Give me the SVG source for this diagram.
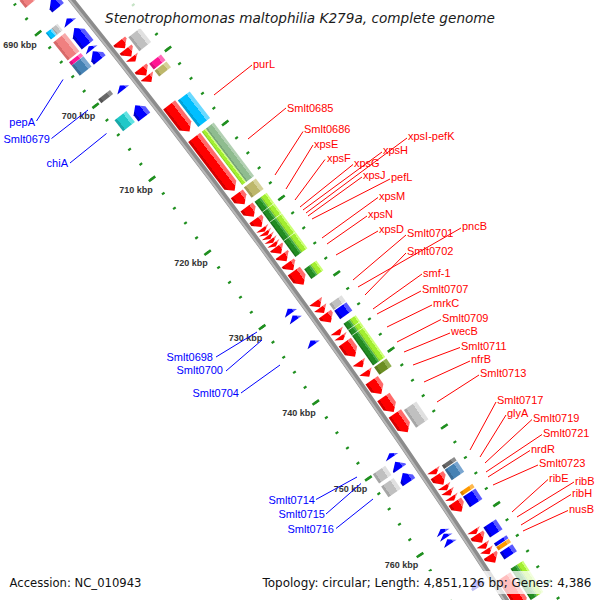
<svg xmlns="http://www.w3.org/2000/svg" xmlns:xlink="http://www.w3.org/1999/xlink" width="600" height="600" viewBox="0 0 600 600">
<defs>
<style>
.R{fill:url(#gR)}.B{fill:url(#gB)}.Gy{fill:url(#gGy)}.Dg{fill:url(#gDg)}.Sa{fill:url(#gSa)}.Mg{fill:url(#gMg)}.St{fill:url(#gSt)}.Cy{fill:url(#gCy)}.Tq{fill:url(#gTq)}.Tn{fill:url(#gTn)}.Sg{fill:url(#gSg)}.Li{fill:url(#gLi)}.Fg{fill:url(#gFg)}.Ol{fill:url(#gOl)}.Or{fill:url(#gOr)}
.dv{stroke:#fff;stroke-width:0.8;stroke-opacity:0.8}
.lr{font-family:"Liberation Sans",Arial,sans-serif;font-size:11px;fill:#ff0000}
.lb{font-family:"Liberation Sans",Arial,sans-serif;font-size:11px;fill:#0000ff;text-anchor:end}
.tk{font-family:"Liberation Sans",Arial,sans-serif;font-size:9px;font-weight:bold;fill:#333;text-anchor:middle}
.cr line{stroke:#ff0000;stroke-width:1}
.cb line{stroke:#0000ff;stroke-width:1}
.tick{fill:none;stroke:#1f8f1f}
.lg{font-family:"DejaVu Sans",sans-serif;font-size:12px;fill:#111}
.box{fill:#fff;fill-opacity:0.75}
</style>
<linearGradient id="gR" x1="0" y1="0" x2="0" y2="1"><stop offset="0" stop-color="#ff6a6a"/><stop offset=".28" stop-color="#ff6a6a"/><stop offset=".28" stop-color="#f00"/><stop offset=".82" stop-color="#f00"/><stop offset=".82" stop-color="#d40000"/><stop offset="1" stop-color="#d40000"/></linearGradient>
<linearGradient id="gB" x1="0" y1="0" x2="0" y2="1"><stop offset="0" stop-color="#5a5aff"/><stop offset=".28" stop-color="#5a5aff"/><stop offset=".28" stop-color="#00f"/><stop offset=".82" stop-color="#00f"/><stop offset=".82" stop-color="#0000c8"/><stop offset="1" stop-color="#0000c8"/></linearGradient>
<linearGradient id="gGy" x1="0" y1="0" x2="0" y2="1"><stop offset="0" stop-color="#e0e0e0"/><stop offset=".28" stop-color="#e0e0e0"/><stop offset=".28" stop-color="#c0c0c0"/><stop offset=".82" stop-color="#c0c0c0"/><stop offset=".82" stop-color="#a6a6a6"/><stop offset="1" stop-color="#a6a6a6"/></linearGradient>
<linearGradient id="gDg" x1="0" y1="0" x2="0" y2="1"><stop offset="0" stop-color="#8c8c8c"/><stop offset=".28" stop-color="#8c8c8c"/><stop offset=".28" stop-color="#686868"/><stop offset=".82" stop-color="#686868"/><stop offset=".82" stop-color="#555"/><stop offset="1" stop-color="#555"/></linearGradient>
<linearGradient id="gSa" x1="0" y1="0" x2="0" y2="1"><stop offset="0" stop-color="#f7aaaa"/><stop offset=".28" stop-color="#f7aaaa"/><stop offset=".28" stop-color="#f08080"/><stop offset=".82" stop-color="#f08080"/><stop offset=".82" stop-color="#d86a6a"/><stop offset="1" stop-color="#d86a6a"/></linearGradient>
<linearGradient id="gMg" x1="0" y1="0" x2="0" y2="1"><stop offset="0" stop-color="#ff6ab8"/><stop offset=".28" stop-color="#ff6ab8"/><stop offset=".28" stop-color="#ff1493"/><stop offset=".82" stop-color="#ff1493"/><stop offset=".82" stop-color="#d8107c"/><stop offset="1" stop-color="#d8107c"/></linearGradient>
<linearGradient id="gSt" x1="0" y1="0" x2="0" y2="1"><stop offset="0" stop-color="#7aa6d0"/><stop offset=".28" stop-color="#7aa6d0"/><stop offset=".28" stop-color="#4682b4"/><stop offset=".82" stop-color="#4682b4"/><stop offset=".82" stop-color="#3a6d98"/><stop offset="1" stop-color="#3a6d98"/></linearGradient>
<linearGradient id="gCy" x1="0" y1="0" x2="0" y2="1"><stop offset="0" stop-color="#6ad9ff"/><stop offset=".28" stop-color="#6ad9ff"/><stop offset=".28" stop-color="#00bfff"/><stop offset=".82" stop-color="#00bfff"/><stop offset=".82" stop-color="#00a2d8"/><stop offset="1" stop-color="#00a2d8"/></linearGradient>
<linearGradient id="gTq" x1="0" y1="0" x2="0" y2="1"><stop offset="0" stop-color="#62e2e2"/><stop offset=".28" stop-color="#62e2e2"/><stop offset=".28" stop-color="#1fc8c8"/><stop offset=".82" stop-color="#1fc8c8"/><stop offset=".82" stop-color="#18a8a8"/><stop offset="1" stop-color="#18a8a8"/></linearGradient>
<linearGradient id="gTn" x1="0" y1="0" x2="0" y2="1"><stop offset="0" stop-color="#d6d29a"/><stop offset=".28" stop-color="#d6d29a"/><stop offset=".28" stop-color="#bdb76b"/><stop offset=".82" stop-color="#bdb76b"/><stop offset=".82" stop-color="#a39d58"/><stop offset="1" stop-color="#a39d58"/></linearGradient>
<linearGradient id="gSg" x1="0" y1="0" x2="0" y2="1"><stop offset="0" stop-color="#b2d0b2"/><stop offset=".28" stop-color="#b2d0b2"/><stop offset=".28" stop-color="#8fbc8f"/><stop offset=".82" stop-color="#8fbc8f"/><stop offset=".82" stop-color="#7aa67a"/><stop offset="1" stop-color="#7aa67a"/></linearGradient>
<linearGradient id="gLi" x1="0" y1="0" x2="0" y2="1"><stop offset="0" stop-color="#ccff77"/><stop offset=".28" stop-color="#ccff77"/><stop offset=".28" stop-color="#a2ee30"/><stop offset=".82" stop-color="#a2ee30"/><stop offset=".82" stop-color="#8cd428"/><stop offset="1" stop-color="#8cd428"/></linearGradient>
<linearGradient id="gFg" x1="0" y1="0" x2="0" y2="1"><stop offset="0" stop-color="#44aa44"/><stop offset=".28" stop-color="#44aa44"/><stop offset=".28" stop-color="#228b22"/><stop offset=".82" stop-color="#228b22"/><stop offset=".82" stop-color="#1a721a"/><stop offset="1" stop-color="#1a721a"/></linearGradient>
<linearGradient id="gOl" x1="0" y1="0" x2="0" y2="1"><stop offset="0" stop-color="#90b050"/><stop offset=".28" stop-color="#90b050"/><stop offset=".28" stop-color="#6b8e23"/><stop offset=".82" stop-color="#6b8e23"/><stop offset=".82" stop-color="#5a7a1c"/><stop offset="1" stop-color="#5a7a1c"/></linearGradient>
<linearGradient id="gOr" x1="0" y1="0" x2="0" y2="1"><stop offset="0" stop-color="#ffb84d"/><stop offset=".28" stop-color="#ffb84d"/><stop offset=".28" stop-color="#ff9900"/><stop offset=".82" stop-color="#ff9900"/><stop offset=".82" stop-color="#dd8000"/><stop offset="1" stop-color="#dd8000"/></linearGradient>
<path id="tin" d="M5501.8,-4541.38 A7134,7134 0 0 1 6022.55,-3823.99"/>
<path id="tout" d="M5572.75,-4599.95 A7226,7226 0 0 1 6100.22,-3873.3"/>
</defs>
<rect width="600" height="600" fill="#fff"/>
<g id="map" transform="translate(-5522 4503)">
<g id="ticks">
<use xlink:href="#tin" class="tick" stroke-width="3.2" stroke-dasharray="2.2 16.2799" stroke-dashoffset="1.1"/>
<use xlink:href="#tin" class="tick" stroke-width="8" stroke-dasharray="2.6 89.7995" stroke-dashoffset="1.3"/>
<use xlink:href="#tout" class="tick" stroke-width="3.2" stroke-dasharray="2.2 16.5182" stroke-dashoffset="1.1"/>
<use xlink:href="#tout" class="tick" stroke-width="8" stroke-dasharray="2.6 90.991" stroke-dashoffset="1.3"/>
</g>
<g id="backbone">
<path d="M5561.65,-4542.55 A7181,7181 0 0 1 6042.2,-3880.54" fill="none" stroke="#8c8c8c" stroke-width="6"/>
<path d="M5560.49,-4541.6 A7179.5,7179.5 0 0 1 6040.94,-3879.73" fill="none" stroke="#b8b8b8" stroke-width="2"/>
</g>
<g id="features">
<g id="r1" transform="rotate(51.10073)"><polygon class="B" points="5.58,-7173 1.42,-7173 -5.58,-7165.5 1.42,-7158 5.58,-7158"/></g>
<g id="r2" transform="rotate(51.27883)"><polygon class="B" points="2.79,-7173 -2.79,-7165.5 2.79,-7158"/></g>
<g id="r3" transform="rotate(51.43838)"><polygon class="B" points="10.7,-7173 -3.7,-7173 -10.7,-7165.5 -3.7,-7158 10.7,-7158"/></g>
<g id="r4" transform="rotate(51.55712)"><polygon class="B" points="2.33,-7173 -2.33,-7165.5 2.33,-7158"/></g>
<g id="pepA" transform="rotate(51.63504)"><polygon class="B" points="5.58,-7173 1.42,-7173 -5.58,-7165.5 1.42,-7158 5.58,-7158"/></g>
<g id="Smlt0679" transform="rotate(51.96156)"><polygon class="B" points="2.79,-7173 -2.79,-7165.5 2.79,-7158"/></g>
<g id="chiA" transform="rotate(52.19903)"><polygon class="B" points="7.44,-7173 -0.44,-7173 -7.44,-7165.5 -0.44,-7158 7.44,-7158"/></g>
<g id="Smlt0698" transform="rotate(54.19527)"><polygon class="B" points="2.79,-7173 -2.79,-7165.5 2.79,-7158"/></g>
<g id="Smlt0700" transform="rotate(54.26206)"><polygon class="B" points="2.79,-7173 -2.79,-7165.5 2.79,-7158"/></g>
<g id="Smlt0704" transform="rotate(54.50695)"><polygon class="B" points="2.79,-7173 -2.79,-7165.5 2.79,-7158"/></g>
<g id="Smlt0714" transform="rotate(55.60525)"><polygon class="B" points="2.33,-7173 -2.33,-7165.5 2.33,-7158"/></g>
<g id="Smlt0715" transform="rotate(55.70173)"><polygon class="B" points="4.19,-7173 2.81,-7173 -4.19,-7165.5 2.81,-7158 4.19,-7158"/></g>
<g id="Smlt0716" transform="rotate(55.82046)"><polygon class="B" points="5.58,-7173 1.42,-7173 -5.58,-7165.5 1.42,-7158 5.58,-7158"/></g>
<g id="r14" transform="rotate(56.33622)"><polygon class="B" points="2.33,-7173 -2.33,-7165.5 2.33,-7158"/></g>
<g id="r15" transform="rotate(56.38074)"><polygon class="B" points="2.33,-7173 -2.33,-7165.5 2.33,-7158"/></g>
<g id="r16" transform="rotate(56.4364)"><polygon class="B" points="2.79,-7173 -2.79,-7165.5 2.79,-7158"/></g>
<g id="r17" transform="rotate(56.83713)"><polygon class="B" points="4.65,-7173 2.35,-7173 -4.65,-7165.5 2.35,-7158 4.65,-7158"/></g>

<g id="c1" transform="rotate(50.94489)"><rect class="Sa" x="-4.65" y="-7155" width="9.3" height="15"/></g>
<g id="c2" transform="rotate(51.27512)"><rect class="Gy" x="-4.19" y="-7155" width="8.37" height="7.5"/><rect class="Cy" x="-4.19" y="-7147.5" width="8.37" height="7.5"/></g>
<g id="c3" transform="rotate(51.43096)"><rect class="Sa" x="-11.63" y="-7155" width="23.25" height="15"/></g>
<g id="c4" transform="rotate(51.55712)"><rect class="Mg" x="-2" y="-7155" width="4" height="15"/></g>
<g id="c5" transform="rotate(51.62762)"><rect class="St" x="-6.51" y="-7155" width="13.02" height="15"/></g>
<g id="c6" transform="rotate(51.9393)"><rect class="Dg" x="-2.5" y="-7155" width="5" height="15"/></g>
<g id="c7" transform="rotate(52.1879)"><rect class="Tq" x="-6.98" y="-7155" width="13.95" height="15"/></g>
<g id="c8" transform="rotate(55.6943)"><rect class="Gy" x="-5.58" y="-7155" width="11.16" height="15"/></g>
<g id="c9" transform="rotate(55.82046)"><rect class="Gy" x="-6.51" y="-7155" width="13.02" height="15"/></g>

<g id="f1" transform="rotate(51.69441)"><polygon class="R" points="-4.65,-7200 -2.35,-7200 4.65,-7192.5 -2.35,-7185 -4.65,-7185"/></g>
<g id="f2" transform="rotate(51.77604)"><polygon class="R" points="-4.65,-7200 -2.35,-7200 4.65,-7192.5 -2.35,-7185 -4.65,-7185"/></g>
<g id="f3" transform="rotate(51.84283)"><polygon class="R" points="-2.79,-7200 2.79,-7192.5 -2.79,-7185"/></g>
<g id="f4" transform="rotate(51.96898)"><polygon class="R" points="-4.65,-7200 -2.35,-7200 4.65,-7192.5 -2.35,-7185 -4.65,-7185"/></g>
<g id="f5" transform="rotate(52.04319)"><polygon class="R" points="-3.72,-7200 -3.28,-7200 3.72,-7192.5 -3.28,-7185 -3.72,-7185"/></g>
<g id="purL" transform="rotate(52.4365)"><polygon class="R" points="-16.74,-7200 9.74,-7200 16.74,-7192.5 9.74,-7185 -16.74,-7185"/></g>
<g id="Smlt0685" transform="rotate(52.8966)"><polygon class="R" points="-33.48,-7200 26.48,-7200 33.48,-7192.5 26.48,-7185 -33.48,-7185"/></g>
<g id="Smlt0686" transform="rotate(53.24539)"><polygon class="R" points="-6.51,-7200 -0.49,-7200 6.51,-7192.5 -0.49,-7185 -6.51,-7185"/></g>
<g id="xpsE" transform="rotate(53.37154)"><polygon class="R" points="-6.05,-7200 -0.95,-7200 6.05,-7192.5 -0.95,-7185 -6.05,-7185"/></g>
<g id="xpsF" transform="rotate(53.48286)"><polygon class="R" points="-5.12,-7200 -1.88,-7200 5.12,-7192.5 -1.88,-7185 -5.12,-7185"/></g>
<g id="xpsG" transform="rotate(53.5515)"><polygon class="R" points="-2.09,-7200 2.09,-7192.5 -2.09,-7185"/></g>
<g id="xpsH" transform="rotate(53.58861)"><polygon class="R" points="-2.09,-7200 2.09,-7192.5 -2.09,-7185"/></g>
<g id="xpsI-pefK" transform="rotate(53.62571)"><polygon class="R" points="-2.09,-7200 2.09,-7192.5 -2.09,-7185"/></g>
<g id="xpsJ" transform="rotate(53.66282)"><polygon class="R" points="-2.09,-7200 2.09,-7192.5 -2.09,-7185"/></g>
<g id="pefL" transform="rotate(53.69992)"><polygon class="R" points="-2.09,-7200 2.09,-7192.5 -2.09,-7185"/></g>
<g id="f16" transform="rotate(53.75372)"><polygon class="R" points="-4.19,-7200 -2.81,-7200 4.19,-7192.5 -2.81,-7185 -4.19,-7185"/></g>
<g id="xpsM" transform="rotate(53.82793)"><polygon class="R" points="-4.19,-7200 -2.81,-7200 4.19,-7192.5 -2.81,-7185 -4.19,-7185"/></g>
<g id="xpsN" transform="rotate(53.91327)"><polygon class="R" points="-4.65,-7200 -2.35,-7200 4.65,-7192.5 -2.35,-7185 -4.65,-7185"/></g>
<g id="xpsD" transform="rotate(54.02459)"><polygon class="R" points="-8.37,-7200 1.37,-7200 8.37,-7192.5 1.37,-7185 -8.37,-7185"/></g>
<g id="Smlt0701" transform="rotate(54.28432)"><polygon class="R" points="-3.72,-7200 -3.28,-7200 3.72,-7192.5 -3.28,-7185 -3.72,-7185"/></g>
<g id="pncB" transform="rotate(54.34369)"><polygon class="R" points="-3.26,-7200 3.26,-7192.5 -3.26,-7185"/></g>
<g id="Smlt0702" transform="rotate(54.42161)"><polygon class="R" points="-5.12,-7200 -1.88,-7200 5.12,-7192.5 -1.88,-7185 -5.12,-7185"/></g>
<g id="smf-1" transform="rotate(54.56632)"><polygon class="R" points="-2.79,-7200 2.79,-7192.5 -2.79,-7185"/></g>
<g id="Smlt0707" transform="rotate(54.61456)"><polygon class="R" points="-2.33,-7200 2.33,-7192.5 -2.33,-7185"/></g>
<g id="mrkC" transform="rotate(54.72587)"><polygon class="R" points="-8.84,-7200 1.84,-7200 8.84,-7192.5 1.84,-7185 -8.84,-7185"/></g>
<g id="Smlt0709" transform="rotate(54.87429)"><polygon class="R" points="-3.26,-7200 3.26,-7192.5 -3.26,-7185"/></g>
<g id="wecB" transform="rotate(54.96705)"><polygon class="R" points="-3.26,-7200 3.26,-7192.5 -3.26,-7185"/></g>
<g id="Smlt0711" transform="rotate(55.09321)"><polygon class="R" points="-8.37,-7200 1.37,-7200 8.37,-7192.5 1.37,-7185 -8.37,-7185"/></g>
<g id="nfrB" transform="rotate(55.26203)"><polygon class="R" points="-9.07,-7200 2.07,-7200 9.07,-7192.5 2.07,-7185 -9.07,-7185"/></g>
<g id="Smlt0713" transform="rotate(55.44014)"><polygon class="R" points="-11.39,-7200 4.39,-7200 11.39,-7192.5 4.39,-7185 -11.39,-7185"/></g>
<g id="Smlt0717" transform="rotate(55.91508)"><polygon class="R" points="-2.56,-7200 2.56,-7192.5 -2.56,-7185"/></g>
<g id="glyA" transform="rotate(55.98929)"><polygon class="R" points="-5.81,-7200 -1.19,-7200 5.81,-7192.5 -1.19,-7185 -5.81,-7185"/></g>
<g id="Smlt0719" transform="rotate(56.06721)"><polygon class="R" points="-2.56,-7200 2.56,-7192.5 -2.56,-7185"/></g>
<g id="Smlt0721" transform="rotate(56.1173)"><polygon class="R" points="-2.79,-7200 2.79,-7192.5 -2.79,-7185"/></g>
<g id="nrdR" transform="rotate(56.16925)"><polygon class="R" points="-2.33,-7200 2.33,-7192.5 -2.33,-7185"/></g>
<g id="Smlt0723" transform="rotate(56.24717)"><polygon class="R" points="-6.05,-7200 -0.95,-7200 6.05,-7192.5 -0.95,-7185 -6.05,-7185"/></g>
<g id="f37" transform="rotate(56.48835)"><polygon class="R" points="-2.33,-7200 2.33,-7192.5 -2.33,-7185"/></g>
<g id="ribE" transform="rotate(56.55328)"><polygon class="R" points="-4.88,-7200 -2.12,-7200 4.88,-7192.5 -2.12,-7185 -4.88,-7185"/></g>
<g id="ribB" transform="rotate(56.62564)"><polygon class="R" points="-2.79,-7200 2.79,-7192.5 -2.79,-7185"/></g>
<g id="ribH" transform="rotate(56.67758)"><polygon class="R" points="-2.79,-7200 2.79,-7192.5 -2.79,-7185"/></g>
<g id="nusB" transform="rotate(56.74437)"><polygon class="R" points="-4.65,-7200 -2.35,-7200 4.65,-7192.5 -2.35,-7185 -4.65,-7185"/></g>
<g id="f42" transform="rotate(57.05976)"><polygon class="R" points="-18.6,-7200 11.6,-7200 18.6,-7192.5 11.6,-7185 -18.6,-7185"/></g>

<g id="g1" transform="rotate(51.75006)"><rect class="Gy" x="-8.84" y="-7217" width="17.67" height="15"/></g>
<g id="g2" transform="rotate(51.9764)"><rect class="Mg" x="-3.72" y="-7217" width="7.44" height="15"/></g>
<g id="g3" transform="rotate(52.0469)"><rect class="Tn" x="-3.72" y="-7217" width="7.44" height="15"/></g>
<g id="g4" transform="rotate(52.45135)"><rect class="Cy" x="-16.74" y="-7217" width="33.48" height="15"/></g>
<g id="g5" transform="rotate(52.8966)"><rect class="Sg" x="-33.48" y="-7217" width="66.96" height="10"/><rect class="Li" x="-33.48" y="-7207" width="66.96" height="5"/></g>
<g id="g6" transform="rotate(53.23797)"><rect class="Tn" x="-6.51" y="-7217" width="13.02" height="15"/></g>
<g id="g7" transform="rotate(53.60159)"><rect class="Li" x="-34.41" y="-7217" width="68.82" height="7.5"/><rect class="Fg" x="-34.41" y="-7209.5" width="68.82" height="7.5"/><path class="dv" d="M-21.39,-7217V-7202M-8.84,-7217V-7202M14.42,-7217V-7202"/></g>
<g id="g8" transform="rotate(54.04314)"><rect class="Li" x="-6.05" y="-7217" width="12.1" height="7.5"/><rect class="Fg" x="-6.05" y="-7209.5" width="12.1" height="7.5"/></g>
<g id="g9" transform="rotate(54.36595)"><rect class="Gy" x="-3.72" y="-7217" width="7.44" height="15"/></g>
<g id="g10" transform="rotate(54.44387)"><rect class="B" x="-5.12" y="-7217" width="10.23" height="15"/></g>
<g id="g11" transform="rotate(54.73329)"><rect class="Li" x="-25.58" y="-7217" width="51.15" height="7.5"/><rect class="Fg" x="-25.58" y="-7209.5" width="51.15" height="7.5"/><path class="dv" d="M-17.67,-7217V-7202M-11.16,-7217V-7202"/></g>
<g id="g12" transform="rotate(54.98931)"><rect class="Ol" x="-4.65" y="-7217" width="9.3" height="15"/></g>
<g id="g13" transform="rotate(55.45312)"><rect class="Gy" x="-10.7" y="-7217" width="21.39" height="15"/></g>
<g id="g14" transform="rotate(55.91879)"><rect class="Dg" x="-2.09" y="-7217" width="4.18" height="15"/></g>
<g id="g15" transform="rotate(55.993)"><rect class="St" x="-6.28" y="-7217" width="12.56" height="15"/></g>
<g id="g16" transform="rotate(56.17482)"><rect class="Or" x="-2.09" y="-7217" width="4.18" height="15"/></g>
<g id="g17" transform="rotate(56.25274)"><rect class="B" x="-6.28" y="-7217" width="12.56" height="15"/></g>
<g id="g18" transform="rotate(56.544)"><rect class="B" x="-6.05" y="-7217" width="12.09" height="15"/></g>
<g id="g19" transform="rotate(56.66274)"><rect class="B" x="-1.86" y="-7217" width="3.72" height="15"/></g>
<g id="g20" transform="rotate(56.69799)"><rect class="Or" x="-2.09" y="-7217" width="4.18" height="15"/></g>
<g id="g21" transform="rotate(56.76663)"><rect class="B" x="-4.19" y="-7217" width="8.37" height="15"/></g>
<g id="g22" transform="rotate(57.0375)"><rect class="Li" x="-18.6" y="-7217" width="37.2" height="7.5"/><rect class="Fg" x="-18.6" y="-7209.5" width="37.2" height="7.5"/></g>
</g>
</g>
<g id="tick-labels">
<text class="tk" x="20" y="48.2">690 kbp</text>
<text class="tk" x="78.5" y="119.2">700 kbp</text>
<text class="tk" x="136" y="192.7">710 kbp</text>
<text class="tk" x="191" y="265.7">720 kbp</text>
<text class="tk" x="245.5" y="340.7">730 kbp</text>
<text class="tk" x="299" y="415.7">740 kbp</text>
<text class="tk" x="350.5" y="491.7">750 kbp</text>
<text class="tk" x="401.5" y="568.2">760 kbp</text>
</g>
<g id="connectors">
<g class="cr">
<line x1="252" y1="65" x2="214" y2="95"/>
<line x1="286" y1="108" x2="248" y2="139"/>
<line x1="303" y1="131.5" x2="275" y2="175"/>
<line x1="313" y1="145" x2="286" y2="189"/>
<line x1="325" y1="159.5" x2="295" y2="200"/>
<line x1="353" y1="164.5" x2="300" y2="207"/>
<line x1="382" y1="152" x2="303" y2="210"/>
<line x1="407" y1="138" x2="306" y2="213"/>
<line x1="362" y1="177" x2="308" y2="216"/>
<line x1="390" y1="179" x2="312" y2="219"/>
<line x1="378" y1="197.5" x2="322" y2="238"/>
<line x1="367" y1="216" x2="327" y2="244"/>
<line x1="378" y1="231" x2="336" y2="255"/>
<line x1="406" y1="235" x2="353" y2="280"/>
<line x1="461" y1="228" x2="358" y2="287"/>
<line x1="406" y1="253" x2="365" y2="295"/>
<line x1="422" y1="274" x2="373" y2="309"/>
<line x1="421" y1="291" x2="377" y2="314"/>
<line x1="432" y1="305" x2="387" y2="327"/>
<line x1="441" y1="319.5" x2="397" y2="342"/>
<line x1="450" y1="333" x2="404" y2="352"/>
<line x1="460" y1="347.5" x2="413" y2="365"/>
<line x1="470" y1="361" x2="424" y2="382"/>
<line x1="479" y1="375" x2="437" y2="402"/>
<line x1="496" y1="402" x2="470" y2="450"/>
<line x1="506" y1="415" x2="480" y2="457"/>
<line x1="532" y1="419.5" x2="485" y2="463"/>
<line x1="542" y1="434.5" x2="486" y2="472"/>
<line x1="530" y1="450.5" x2="488" y2="477"/>
<line x1="538" y1="465" x2="493" y2="485"/>
<line x1="548" y1="479.5" x2="512" y2="512"/>
<line x1="574" y1="482" x2="517" y2="517"/>
<line x1="571" y1="494.5" x2="521" y2="525"/>
<line x1="568" y1="510.5" x2="523" y2="531"/>
</g>
<g class="cb">
<line x1="36.5" y1="121" x2="63" y2="79.5"/>
<line x1="51.5" y1="138.5" x2="88" y2="110"/>
<line x1="70" y1="163" x2="106.5" y2="133.5"/>
<line x1="216" y1="357" x2="257" y2="332"/>
<line x1="226" y1="371" x2="262" y2="340"/>
<line x1="241" y1="393" x2="280" y2="365"/>
<line x1="316" y1="499.5" x2="357" y2="477"/>
<line x1="326" y1="514" x2="361" y2="483.5"/>
<line x1="336" y1="528.5" x2="373" y2="499"/>
</g>
</g>
<g id="labels">
<text class="lr" x="253" y="68">purL</text>
<text class="lr" x="287" y="111.5">Smlt0685</text>
<text class="lr" x="304" y="133">Smlt0686</text>
<text class="lr" x="314" y="148">xpsE</text>
<text class="lr" x="327" y="161.5">xpsF</text>
<text class="lr" x="354" y="166.5">xpsG</text>
<text class="lr" x="383" y="154">xpsH</text>
<text class="lr" x="408" y="140">xpsI-pefK</text>
<text class="lr" x="363" y="179">xpsJ</text>
<text class="lr" x="391" y="181">pefL</text>
<text class="lr" x="379" y="199.5">xpsM</text>
<text class="lr" x="368" y="218">xpsN</text>
<text class="lr" x="379" y="233">xpsD</text>
<text class="lr" x="407" y="237">Smlt0701</text>
<text class="lr" x="462" y="230">pncB</text>
<text class="lr" x="407" y="255">Smlt0702</text>
<text class="lr" x="423" y="276.5">smf-1</text>
<text class="lr" x="422" y="293">Smlt0707</text>
<text class="lr" x="433" y="307">mrkC</text>
<text class="lr" x="442" y="321.5">Smlt0709</text>
<text class="lr" x="451" y="335">wecB</text>
<text class="lr" x="461" y="349.5">Smlt0711</text>
<text class="lr" x="471" y="363">nfrB</text>
<text class="lr" x="480" y="377">Smlt0713</text>
<text class="lr" x="497" y="404">Smlt0717</text>
<text class="lr" x="507" y="417">glyA</text>
<text class="lr" x="533" y="421.5">Smlt0719</text>
<text class="lr" x="543" y="436.5">Smlt0721</text>
<text class="lr" x="531" y="452.5">nrdR</text>
<text class="lr" x="539" y="467">Smlt0723</text>
<text class="lr" x="549" y="481.5">ribE</text>
<text class="lr" x="575" y="484.5">ribB</text>
<text class="lr" x="572" y="496.5">ribH</text>
<text class="lr" x="569" y="512.5">nusB</text>
<text class="lb" x="35" y="125.5">pepA</text>
<text class="lb" x="50" y="142.5">Smlt0679</text>
<text class="lb" x="68" y="167">chiA</text>
<text class="lb" x="213" y="360.5">Smlt0698</text>
<text class="lb" x="223" y="374">Smlt0700</text>
<text class="lb" x="239" y="396.5">Smlt0704</text>
<text class="lb" x="315" y="504">Smlt0714</text>
<text class="lb" x="325" y="518">Smlt0715</text>
<text class="lb" x="334" y="532.5">Smlt0716</text>
</g>
<g id="legend">
<rect class="box" x="100" y="0" width="400" height="29"/>
<text x="105" y="23" font-family="DejaVu Sans, sans-serif" font-style="italic" font-size="14.5" fill="#1a1a1a" textLength="390" lengthAdjust="spacingAndGlyphs">Stenotrophomonas maltophilia K279a, complete genome</text>
<rect class="box" x="3" y="571" width="145" height="23"/>
<text class="lg" x="9.5" y="587" textLength="132" lengthAdjust="spacingAndGlyphs">Accession: NC_010943</text>
<rect class="box" x="256" y="571" width="344" height="23"/>
<text class="lg" x="262.5" y="587" textLength="329" lengthAdjust="spacingAndGlyphs">Topology: circular; Length: 4,851,126 bp; Genes: 4,386</text>
</g>
</svg>
